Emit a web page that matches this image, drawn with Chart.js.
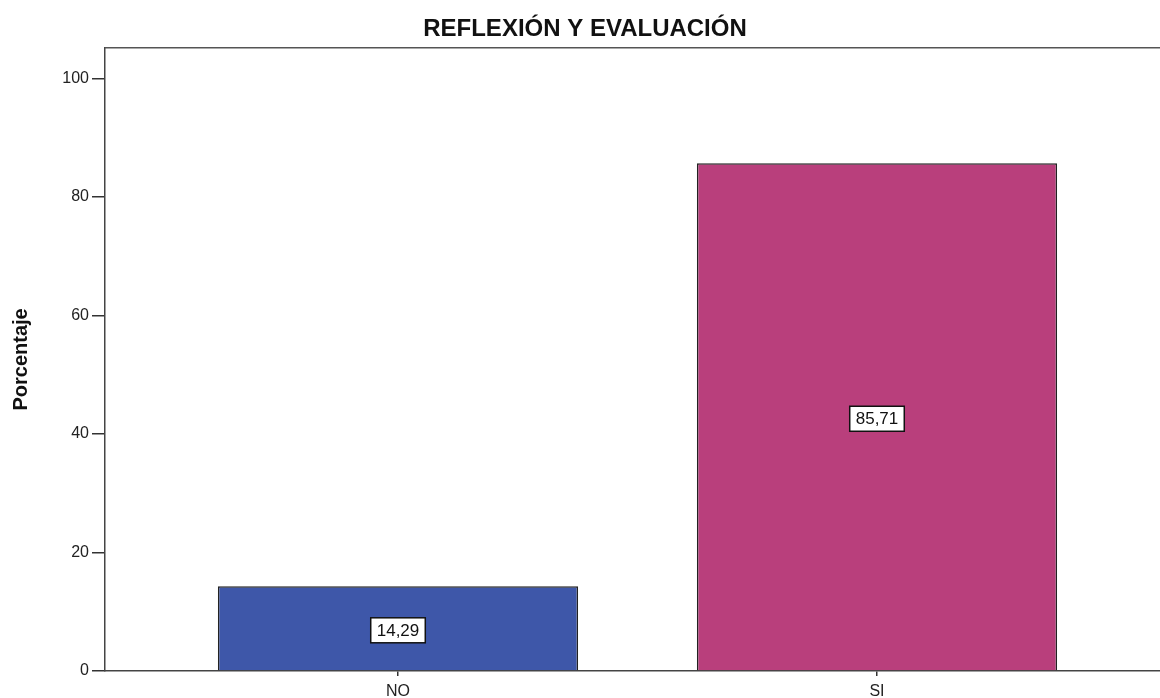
<!DOCTYPE html>
<html>
<head>
<meta charset="utf-8">
<script src="https://cdn.jsdelivr.net/npm/chart.js@4/dist/chart.umd.min.js"></script>
<style>
  html, body { margin: 0; padding: 0; background: #fff; overflow: hidden; }
  #wrap { width: 1170px; height: 698px; }
</style>
</head>
<body>
<div id="wrap"><canvas id="c" width="1170" height="698"></canvas></div>
<script>
// ---- data ----
const chartTitle = 'REFLEXIÓN Y EVALUACIÓN';
const yAxisTitle = 'Porcentaje';
const categories = ['NO', 'SI'];
const percentages = [14.29, 85.71];
const barColors = ['#3E57A9', '#B93F7C'];
const yTickValues = [0, 20, 40, 60, 80, 100];

const FONT = "'Liberation Sans', Arial, sans-serif";

const dataLabels = {
  id: 'dataLabels',
  afterDatasetsDraw(chart) {
    const ctx = chart.ctx;
    const meta = chart.getDatasetMeta(0);
    ctx.save();
    ctx.font = '17px ' + FONT;
    ctx.textAlign = 'center';
    ctx.textBaseline = 'middle';
    meta.data.forEach((el, i) => {
      const p = el.getProps(['x', 'y', 'base'], true);
      const cy = (p.y + p.base) / 2 + 2;
      const txt = percentages[i].toFixed(2).replace('.', ',');
      const w = ctx.measureText(txt).width + 12;
      const h = 25;
      ctx.fillStyle = '#ffffff';
      ctx.fillRect(p.x - w / 2, cy - h / 2, w, h);
      ctx.strokeStyle = '#111';
      ctx.lineWidth = 1.5;
      ctx.strokeRect(p.x - w / 2, cy - h / 2, w, h);
      ctx.fillStyle = '#111';
      ctx.fillText(txt, p.x, cy + 1);
    });
    ctx.restore();
  }
};

const frame = {
  id: 'frame',
  afterDraw(chart) {
    const a = chart.chartArea;
    const ctx = chart.ctx;
    ctx.save();
    ctx.strokeStyle = '#555';
    ctx.lineWidth = 1.5;
    ctx.beginPath();
    ctx.moveTo(a.left, a.top);
    ctx.lineTo(a.right, a.top);
    ctx.lineTo(a.right, a.bottom);
    ctx.stroke();
    ctx.restore();
  }
};

new Chart(document.getElementById('c'), {
  type: 'bar',
  data: {
    datasets: [{
      data: categories.map((c, i) => ({ x: i, y: percentages[i] })),
      backgroundColor: barColors,
      borderColor: '#222',
      borderWidth: 1.5,
      barPercentage: 0.752,
      categoryPercentage: 1.0
    }]
  },
  options: {
    responsive: false,
    animation: false,
    devicePixelRatio: 1,
    layout: { padding: 0 },
    plugins: {
      legend: { display: false },
      tooltip: { enabled: false },
      title: {
        display: true,
        text: chartTitle,
        color: '#111',
        font: { family: FONT, size: 24, weight: 'bold', lineHeight: 1.2 },
        padding: { top: 15, bottom: 4 }
      }
    },
    scales: {
      x: {
        type: 'linear',
        offset: false,
        min: -0.6117,
        max: 1.6117,
        afterBuildTicks(scale) { scale.ticks = categories.map((c, i) => ({ value: i })); },
        afterFit(scale) { scale.height = 27; },
        ticks: {
          autoSkip: false,
          maxRotation: 0,
          padding: 6,
          color: '#222',
          font: { family: FONT, size: 16 },
          callback: (v) => categories[v]
        },
        grid: { offset: false, drawOnChartArea: false, drawTicks: true, tickLength: 5, color: '#333', lineWidth: 1.5 },
        border: { display: true, color: '#444', width: 1.5 }
      },
      y: {
        min: 0,
        max: 105.2,
        afterBuildTicks(scale) { scale.ticks = yTickValues.map(v => ({ value: v })); },
        afterFit(scale) { scale.width = 105; },
        ticks: {
          padding: 3,
          color: '#222',
          font: { family: FONT, size: 16 }
        },
        grid: { drawOnChartArea: false, drawTicks: true, tickLength: 13, color: '#333', lineWidth: 1.5 },
        border: { display: true, color: '#444', width: 1.5 },
        title: {
          display: true,
          text: yAxisTitle,
          color: '#111',
          font: { family: FONT, size: 20, weight: 'bold' },
          padding: { top: 9, bottom: 0 }
        }
      }
    }
  },
  plugins: [dataLabels, frame]
});
</script>
</body>
</html>
